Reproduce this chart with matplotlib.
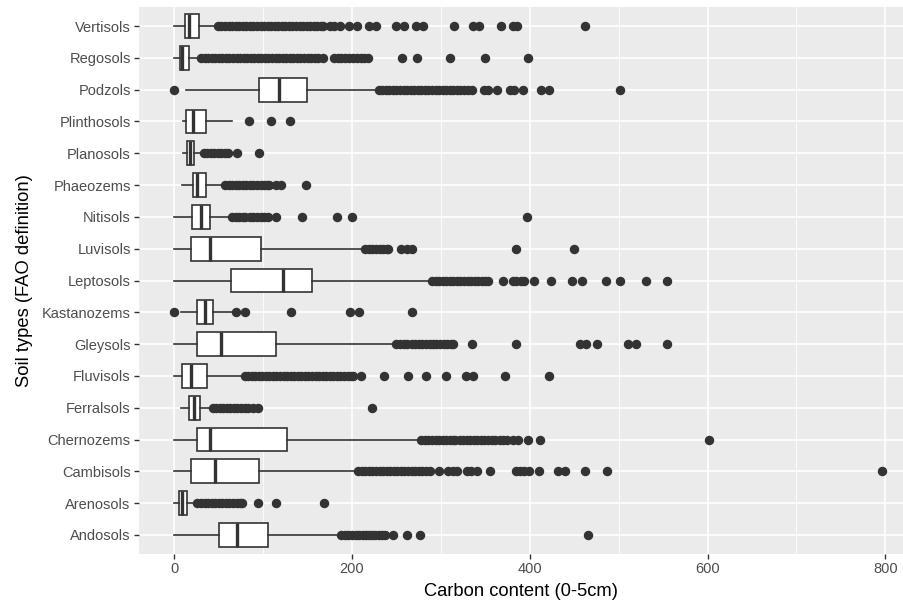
import matplotlib
matplotlib.use("Agg")
import matplotlib.pyplot as plt

plt.rcParams['font.family'] = ['Liberation Sans', 'DejaVu Sans']

# soil types, bottom to top (as ggplot draws factor levels)
soils = ['Andosols', 'Arenosols', 'Cambisols', 'Chernozems', 'Ferralsols',
         'Fluvisols', 'Gleysols', 'Kastanozems', 'Leptosols', 'Luvisols',
         'Nitisols', 'Phaeozems', 'Planosols', 'Plinthosols', 'Podzols',
         'Regosols', 'Vertisols']

# box statistics
whislo = [0, 0, 0, 0, 8, 0, 0, 8, 0, 0, 0, 9, 10, 10, 13, 0, 0]
q1 = [50, 5, 19, 25, 17, 9, 26, 26, 64, 19, 20, 21, 14, 13, 95, 6, 12]
med = [70, 9, 46, 40, 22, 19, 53, 35, 122, 40, 30, 26, 18, 21, 118, 9, 16]
q3 = [105, 14, 95, 127, 29, 37, 115, 43, 155, 98, 40, 36, 22, 36, 149, 17, 28]
whishi = [186, 25, 205, 276, 42, 77, 246, 68, 288, 213, 61, 54, 29, 65, 228, 28, 47]

# outliers
out_andosols = [188, 192, 196, 200, 204, 208, 212, 216, 219, 222, 226, 230, 234, 237,
                246, 262, 277, 466]
out_arenosols = [26, 30, 34, 38, 42, 46, 50, 54, 58, 62, 66, 70, 74, 76, 94, 115, 168]
out_cambisols = [207, 211, 215, 219, 223, 227, 231, 235, 239, 243, 247, 251, 255, 259,
                 263, 267, 271, 275, 279, 283, 288, 298, 308, 314, 318, 329, 334, 341,
                 355, 385, 389, 394, 399, 410, 432, 440, 462, 487, 796]
out_chernozems = [278, 282, 286, 290, 294, 298, 302, 306, 310, 314, 316, 321, 325, 329,
                  333, 337, 341, 345, 349, 353, 357, 361, 366, 370, 374, 381, 387, 398,
                  411, 602]
out_ferralsols = [43, 47, 51, 55, 59, 63, 67, 71, 75, 79, 83, 88, 94, 222]
out_fluvisols = [79, 83, 87, 91, 95, 99, 103, 107, 111, 115, 119, 123, 127, 131, 135,
                 139, 143, 147, 151, 155, 159, 163, 167, 171, 175, 179, 183, 187, 191,
                 195, 199, 201, 210, 236, 263, 283, 306, 328, 336, 372, 422]
out_gleysols = [250, 254, 258, 262, 267, 271, 275, 279, 283, 288, 291, 295, 299, 303,
                307, 311, 314, 335, 384, 457, 463, 476, 511, 520, 554]
out_kastanozems = [0, 69, 80, 131, 198, 208, 267]
out_leptosols = [290, 294, 298, 302, 306, 310, 314, 318, 322, 326, 330, 334, 338, 342,
                 346, 350, 353, 370, 381, 385, 390, 394, 405, 424, 448, 459, 486, 501,
                 531, 554]
out_luvisols = [215, 219, 223, 227, 231, 235, 239, 241, 255, 262, 268, 384, 450]
out_nitisols = [65, 69, 73, 77, 79, 85, 89, 93, 97, 101, 106, 115, 144, 183, 200, 397]
out_phaeozems = [57, 61, 65, 69, 73, 77, 81, 85, 89, 93, 97, 101, 104, 107, 114, 120, 148]
out_planosols = [33, 37, 41, 45, 49, 53, 57, 60, 71, 95]
out_plinthosols = [84, 109, 130]
out_podzols = [0, 230, 234, 238, 242, 246, 250, 254, 258, 262, 266, 270, 274, 278, 282,
               286, 290, 294, 298, 302, 306, 310, 314, 318, 322, 326, 330, 335, 348,
               353, 363, 378, 382, 392, 413, 422, 501]
out_regosols = [30, 34, 38, 42, 46, 50, 54, 58, 62, 66, 70, 74, 78, 82, 86, 90, 94, 98,
                102, 106, 110, 114, 118, 122, 126, 130, 134, 138, 142, 146, 150, 154,
                158, 162, 167, 180, 184, 188, 192, 197, 201, 206, 210, 214, 218, 256,
                273, 310, 350, 398]
out_vertisols = [49, 53, 57, 61, 65, 69, 73, 77, 81, 85, 89, 93, 97, 101, 105, 109, 113,
                 117, 121, 125, 129, 133, 137, 141, 145, 149, 153, 157, 161, 165, 167,
                 175, 180, 187, 197, 206, 219, 227, 250, 258, 272, 280, 315, 336, 343,
                 368, 381, 386, 462]

outliers = [out_andosols, out_arenosols, out_cambisols, out_chernozems, out_ferralsols,
            out_fluvisols, out_gleysols, out_kastanozems, out_leptosols, out_luvisols,
            out_nitisols, out_phaeozems, out_planosols, out_plinthosols, out_podzols,
            out_regosols, out_vertisols]

stats = []
for i in range(len(soils)):
    stats.append(dict(label=soils[i], whislo=whislo[i], q1=q1[i], med=med[i],
                      q3=q3[i], whishi=whishi[i], fliers=outliers[i]))

fig = plt.figure(figsize=(9.04, 6.03), dpi=100)
ax = fig.add_axes([139 / 904, 49 / 603, 765 / 904, 547 / 603])
ax.set_facecolor('#EBEBEB')

dark = '#333333'
ax.bxp(stats, positions=range(1, len(soils) + 1), widths=0.75,
       orientation='horizontal', patch_artist=True, showcaps=False,
       boxprops=dict(facecolor='white', edgecolor=dark, linewidth=1.2),
       medianprops=dict(color=dark, linewidth=2.4),
       whiskerprops=dict(color=dark, linewidth=1.2),
       flierprops=dict(marker='o', markerfacecolor=dark, markeredgecolor=dark,
                       markersize=5.8, linestyle='none'))

ax.set_xlim(-39.7, 821)
ax.set_ylim(0.4, 17.6)
ax.set_xticks([0, 200, 400, 600, 800])
ax.set_xticks([100, 300, 500, 700], minor=True)
ax.set_yticks(range(1, len(soils) + 1))
ax.set_yticklabels(soils)

ax.grid(which='major', color='white', linewidth=1.2)
ax.grid(which='minor', axis='x', color='white', linewidth=0.6)
ax.set_axisbelow(True)
for s in ax.spines.values():
    s.set_visible(False)

ax.tick_params(which='major', length=3.5, width=1.0, color=dark,
               labelsize=10.5, labelcolor='#4D4D4D', pad=2.5)
ax.tick_params(which='minor', length=0)

ax.set_xlabel('Carbon content (0-5cm)', fontsize=13.2, color='black', labelpad=5)
ax.set_ylabel('Soil types (FAO definition)', fontsize=13.2, color='black', labelpad=6)

fig.savefig('out.png', dpi=100)
